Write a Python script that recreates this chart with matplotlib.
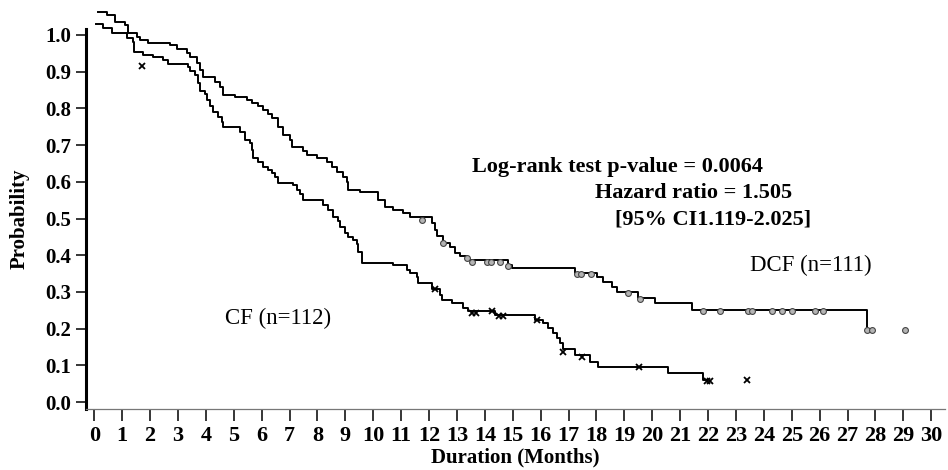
import matplotlib
matplotlib.use("Agg")
import matplotlib.pyplot as plt


# Kaplan-Meier step data (months, survival probability)
dcf_time = [0.13, 0.46, 0.74, 1.10, 1.21, 1.53, 1.64, 1.92, 2.71, 2.96, 3.32, 3.43,
            3.68, 3.79, 3.90, 4.33, 4.51, 4.62, 5.04, 5.47, 5.65, 5.87, 6.05, 6.23,
            6.37, 6.58, 6.76, 7.01, 7.09, 7.48, 7.63, 7.98, 8.34, 8.52, 8.70, 8.91,
            9.06, 9.09, 9.52, 10.17, 10.42, 10.71, 11.07, 11.32, 12.10, 12.21, 12.28,
            12.50, 12.75, 12.93, 13.11, 13.36, 14.83, 14.97, 17.23, 18.02, 18.23,
            18.55, 18.73, 19.49, 20.10, 21.42, 27.70]
dcf_surv = [1.063, 1.054, 1.035, 1.027, 1.005, 0.995, 0.986, 0.978, 0.973, 0.962, 0.951, 0.940,
            0.924, 0.905, 0.886, 0.872, 0.858, 0.837, 0.831, 0.823, 0.815, 0.807, 0.796, 0.785,
            0.774, 0.749, 0.728, 0.714, 0.695, 0.684, 0.673, 0.665, 0.654, 0.640, 0.627, 0.613,
            0.599, 0.578, 0.572, 0.550, 0.531, 0.523, 0.515, 0.504, 0.488, 0.469, 0.452,
            0.433, 0.422, 0.406, 0.398, 0.387, 0.373, 0.365, 0.351, 0.341, 0.327,
            0.313, 0.300, 0.283, 0.270, 0.251, 0.196]
dcf_end = 27.88

cf_time = [0.06, 0.31, 0.63, 1.18, 1.39, 1.42, 1.75, 2.10, 2.46, 2.64, 3.36, 3.43,
           3.61, 3.72, 3.79, 3.97, 4.04, 4.15, 4.26, 4.44, 4.58, 4.62, 5.22, 5.40,
           5.58, 5.65, 5.69, 5.87, 6.05, 6.23, 6.38, 6.48, 6.59, 7.12, 7.27, 7.38,
           7.48, 8.20, 8.38, 8.56, 8.74, 8.81, 8.99, 9.09, 9.27, 9.42, 9.46, 9.59,
           10.71, 11.21, 11.32, 11.57, 11.61, 12.10, 12.39, 12.46, 12.82, 13.21, 13.39,
           14.36, 15.80, 16.08, 16.26, 16.44, 16.58, 16.69, 16.80, 17.23, 17.77, 18.06,
           20.56, 21.82]
cf_surv = [1.030, 1.019, 1.005, 0.992, 0.981, 0.954, 0.946, 0.940, 0.932, 0.921, 0.913, 0.902,
           0.891, 0.869, 0.847, 0.839, 0.823, 0.807, 0.790, 0.777, 0.763, 0.749, 0.736, 0.714,
           0.706, 0.687, 0.665, 0.654, 0.640, 0.632, 0.624, 0.613, 0.597, 0.591, 0.578, 0.567,
           0.550, 0.537, 0.523, 0.504, 0.493, 0.477, 0.460, 0.450, 0.441, 0.431, 0.409, 0.379,
           0.373, 0.360, 0.351, 0.341, 0.324, 0.308, 0.292, 0.278, 0.270, 0.256, 0.248,
           0.237, 0.223, 0.215, 0.202, 0.188, 0.174, 0.161, 0.144, 0.128, 0.109, 0.095,
           0.079, 0.060]
cf_end = 21.96

# censored observations
dcf_cens_time = [11.76, 12.50, 13.36, 13.54, 14.07, 14.22, 14.54, 14.83, 17.30, 17.44, 17.80,
                 19.13, 19.56, 21.82, 22.42, 23.43, 23.57, 24.29, 24.65, 25.01, 25.83, 26.11,
                 27.70, 27.88, 29.05]
dcf_cens_surv = [0.496, 0.433, 0.392, 0.381, 0.381, 0.381, 0.381, 0.371, 0.349, 0.349, 0.349,
                 0.297, 0.281, 0.248, 0.248, 0.248, 0.248, 0.248, 0.248, 0.248, 0.248, 0.248,
                 0.196, 0.196, 0.196]
cf_cens_time = [1.71, 12.21, 13.54, 13.68, 14.25, 14.50, 14.65, 15.87, 16.80, 17.48, 19.52,
                21.96, 22.07, 23.40]
cf_cens_surv = [0.916, 0.308, 0.243, 0.243, 0.248, 0.234, 0.234, 0.223, 0.136, 0.123, 0.095,
                0.057, 0.057, 0.060]

x_ticks = list(range(0, 31))
y_ticks = [0.0, 0.1, 0.2, 0.3, 0.4, 0.5, 0.6, 0.7, 0.8, 0.9, 1.0]

plt.rcParams["font.family"] = ["Liberation Serif", "DejaVu Serif"]

fig = plt.figure(figsize=(9.48, 4.70), dpi=100)
ax = fig.add_axes([0.0907, 0.1298, 0.9061, 0.8085])

# curves
ax.step(dcf_time + [dcf_end], dcf_surv + [dcf_surv[-1]], where="post",
        color="black", lw=1.4, clip_on=False)
ax.step(cf_time + [cf_end], cf_surv + [cf_surv[-1]], where="post",
        color="black", lw=1.4, clip_on=False)

ax.plot(dcf_cens_time, dcf_cens_surv, "o", ms=4.2, mfc="#b4b4b4", mec="#444444",
        mew=0.8, clip_on=False)
ax.plot(cf_cens_time, cf_cens_surv, "x", ms=4, color="black", mew=1.3, clip_on=False)

# annotations
bold = dict(fontsize=16, fontweight="bold", va="center", ha="left")
ax.text(13.55, 0.640, "Log-rank test p-value = 0.0064", **bold)
ax.text(17.95, 0.569, "Hazard ratio = 1.505", **bold)
ax.text(18.66, 0.496, "[95% CI1.119-2.025]", **bold)
ax.text(25.69, 0.373, "DCF (n=111)", fontsize=16.5, ha="center", va="center")
ax.text(6.59, 0.229, "CF (n=112)", fontsize=16.5, ha="center", va="center")

# axes styling
ax.set_xlim(-0.297, 30.49)
ax.set_ylim(-0.019, 1.0163)
ax.set_xticks(x_ticks)
ax.set_yticks(y_ticks)
ax.set_yticklabels([f"{v:.1f}" for v in y_ticks])
ax.tick_params(axis="x", length=8.6, width=1.1, pad=3.5, labelsize=16)
ax.tick_params(axis="y", length=7, width=1.1, pad=3.5, labelsize=15)
for lab in ax.get_xticklabels() + ax.get_yticklabels():
    lab.set_fontweight("bold")

ax.spines["top"].set_visible(False)
ax.spines["right"].set_visible(False)
ax.spines["left"].set_linewidth(2.2)
ax.spines["bottom"].set_linewidth(0.9)
ax.spines["bottom"].set_color("#777777")

ax.set_xlabel("Duration (Months)", fontsize=15, fontweight="bold", labelpad=1)
ax.set_ylabel("Probability", fontsize=15, fontweight="bold", labelpad=11)

fig.savefig("out.png", dpi=100)
